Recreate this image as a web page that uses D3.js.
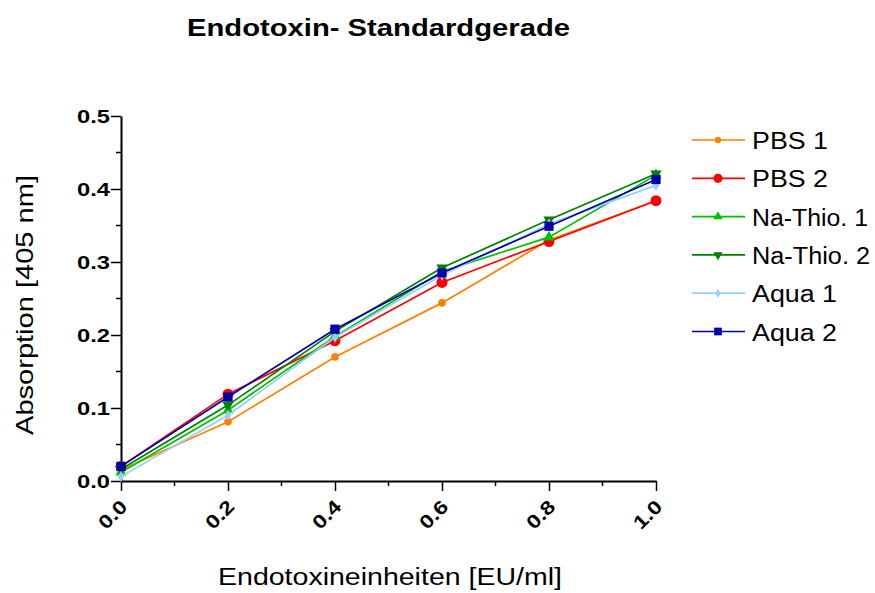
<!DOCTYPE html>
<html>
<head>
<meta charset="utf-8">
<script src="https://cdn.jsdelivr.net/npm/d3@7"></script>
<style>
  body { margin: 0; background: #fff; }
  text { font-family: "Liberation Sans", Arial, sans-serif; }
</style>
</head>
<body>
<div id="chart"></div>
<script>
// x values (EU/ml)
const concentrations = [0, 0.2, 0.4, 0.6, 0.8, 1.0];

// absorption values
const pbs1 = [0.015, 0.081, 0.170, 0.244, 0.330, 0.384];
const pbs2 = [0.020, 0.119, 0.192, 0.272, 0.328, 0.384];
const naThio1 = [0.012, 0.097, 0.198, 0.287, 0.334, 0.419];
const naThio2 = [0.016, 0.104, 0.205, 0.292, 0.358, 0.421];
const aqua1 = [0.006, 0.090, 0.197, 0.282, 0.352, 0.405];
const aqua2 = [0.020, 0.115, 0.208, 0.285, 0.349, 0.413];

const seriesNames = ["PBS 1", "PBS 2", "Na-Thio. 1", "Na-Thio. 2", "Aqua 1", "Aqua 2"];
const xTicks = [0, 0.2, 0.4, 0.6, 0.8, 1.0];
const yTicks = [0, 0.1, 0.2, 0.3, 0.4, 0.5];

const series = [
  { name: seriesNames[0], values: pbs1, color: "#ff8000", symbol: d3.symbolCircle, size: 45 },
  { name: seriesNames[1], values: pbs2, color: "#ff0000", symbol: d3.symbolCircle, size: 95 },
  { name: seriesNames[2], values: naThio1, color: "#00c000", symbol: d3.symbolTriangle, size: 55, rot: 0 },
  { name: seriesNames[3], values: naThio2, color: "#008000", symbol: d3.symbolTriangle, size: 55, rot: 180 },
  { name: seriesNames[4], values: aqua1, color: "#99ccff", symbol: d3.symbolDiamond, size: 35 },
  { name: seriesNames[5], values: aqua2, color: "#0000aa", symbol: d3.symbolSquare, size: 85 }
];

const width = 875, height = 593;
const plot = { left: 121, right: 656, top: 116, bottom: 481 };

const svg = d3.select("#chart").append("svg")
  .attr("width", width)
  .attr("height", height);

const x = d3.scaleLinear().domain([0, 1]).range([plot.left, plot.right]);
const y = d3.scaleLinear().domain([0, 0.5]).range([plot.bottom, plot.top]);

// the original text is a bit wider than Arial, so stretch it to fit
function stretch(sel, len) {
  sel.attr("textLength", len).attr("lengthAdjust", "spacingAndGlyphs");
}

// title
svg.append("text")
  .attr("x", 187).attr("y", 36)
  .attr("font-size", 23).attr("font-weight", "bold")
  .text("Endotoxin- Standardgerade")
  .call(stretch, 383);

// minor ticks
const minorX = d3.range(0.1, 1.0, 0.2);
const minorY = d3.range(0.05, 0.5, 0.1);

svg.selectAll(".minor-x").data(minorX).enter().append("line")
  .attr("x1", d => x(d)).attr("x2", d => x(d))
  .attr("y1", plot.bottom).attr("y2", plot.bottom + 5)
  .attr("stroke", "#000").attr("stroke-width", 1.5);

svg.selectAll(".minor-y").data(minorY).enter().append("line")
  .attr("x1", plot.left - 5).attr("x2", plot.left)
  .attr("y1", d => y(d)).attr("y2", d => y(d))
  .attr("stroke", "#000").attr("stroke-width", 1.5);

// y axis
const yAxis = svg.append("g")
  .attr("transform", `translate(${plot.left},0)`)
  .call(d3.axisLeft(y).tickValues(yTicks).tickFormat(d3.format(".1f")).tickSize(10).tickSizeOuter(0));
yAxis.select(".domain").attr("stroke-width", 2);
yAxis.selectAll(".tick line").attr("stroke-width", 1.5);
yAxis.selectAll(".tick text")
  .attr("font-size", 19).attr("font-weight", "bold")
  .attr("font-family", "Liberation Sans, Arial, sans-serif")
  .attr("x", -11).attr("dy", "0.36em")
  .call(stretch, 33);

// x axis
const xAxis = svg.append("g")
  .attr("transform", `translate(0,${plot.bottom})`)
  .call(d3.axisBottom(x).tickValues(xTicks).tickFormat(d3.format(".1f")).tickSize(10).tickSizeOuter(0));
xAxis.select(".domain").attr("stroke-width", 2);
xAxis.selectAll(".tick line").attr("stroke-width", 1.5);
xAxis.selectAll(".tick text")
  .attr("font-size", 19).attr("font-weight", "bold")
  .attr("font-family", "Liberation Sans, Arial, sans-serif")
  .attr("text-anchor", "end")
  .attr("dy", null)
  .attr("y", 0)
  .attr("transform", "translate(7,27) rotate(-45)")
  .call(stretch, 32);

// axis titles
svg.append("text")
  .attr("x", 218).attr("y", 585)
  .attr("font-size", 23)
  .text("Endotoxineinheiten [EU/ml]")
  .call(stretch, 344);

svg.append("text")
  .attr("transform", "translate(33,435) rotate(-90)")
  .attr("font-size", 24)
  .text("Absorption [405 nm]")
  .call(stretch, 260);

// lines and markers
const line = d3.line()
  .x((d, i) => x(concentrations[i]))
  .y(d => y(d));

series.forEach(s => {
  const g = svg.append("g");
  g.append("path")
    .datum(s.values)
    .attr("d", line)
    .attr("fill", "none")
    .attr("stroke", s.color)
    .attr("stroke-width", 1.7);
  g.selectAll("path.marker").data(s.values).enter().append("path")
    .attr("class", "marker")
    .attr("d", d3.symbol().type(s.symbol).size(s.size))
    .attr("transform", (d, i) => `translate(${x(concentrations[i])},${y(d)}) rotate(${s.rot || 0})`)
    .attr("fill", s.color);
});

// legend
const legend = svg.append("g").attr("transform", "translate(692,140)");
const rowH = 38.3;
const legendWidths = [76, 76, 116, 118, 85, 85];
series.forEach((s, i) => {
  const row = legend.append("g").attr("transform", `translate(0,${i * rowH})`);
  row.append("line")
    .attr("x1", 0).attr("x2", 53)
    .attr("y1", 0).attr("y2", 0)
    .attr("stroke", s.color).attr("stroke-width", 1.7);
  row.append("path")
    .attr("d", d3.symbol().type(s.symbol).size(s.size * 0.7))
    .attr("transform", `translate(26,0) rotate(${s.rot || 0})`)
    .attr("fill", s.color);
  row.append("text")
    .attr("x", 60).attr("y", 9)
    .attr("font-size", 23)
    .text(s.name)
    .call(stretch, legendWidths[i]);
});
</script>
</body>
</html>
